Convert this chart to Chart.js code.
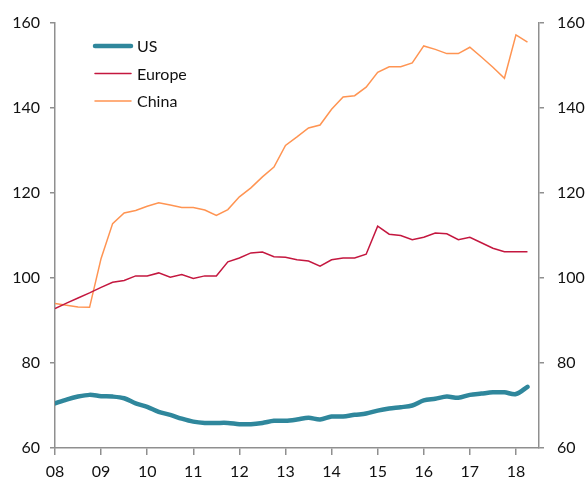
<!DOCTYPE html>
<html>
<head>
<meta charset="utf-8">
<script src="https://cdn.jsdelivr.net/npm/chart.js@4"></script>
<style>
  html, body { margin: 0; padding: 0; background: #fff; }
  #wrap { width: 588px; height: 481px; }
</style>
</head>
<body>
<div id="wrap"><canvas id="chart"></canvas></div>
<script>
// quarterly data, 2008 Q1 .. 2018 Q2
const quarters = [];
for (let y = 2008; y <= 2018; y++) {
  for (let q = 1; q <= 4; q++) {
    if (y === 2018 && q > 2) break;
    quarters.push(y + ' Q' + q);
  }
}
const yearLabels = ['08', '09', '10', '11', '12', '13', '14', '15', '16', '17', '18'];

const us = [70.5, 71.4, 72.1, 72.5, 72.2, 72.1, 71.7, 70.5, 69.7, 68.5,
            67.8, 66.9, 66.2, 65.9, 65.9, 65.9, 65.6, 65.6, 65.9, 66.4,
            66.4, 66.7, 67.1, 66.7, 67.4, 67.4, 67.8, 68.1, 68.8, 69.3,
            69.6, 70.0, 71.2, 71.6, 72.1, 71.8, 72.5, 72.8, 73.1, 73.1,
            72.7, 74.4];
const europe = [92.8, 94.1, 95.3, 96.5, 97.8, 99.0, 99.4, 100.5, 100.5, 101.2,
                100.2, 100.8, 99.9, 100.5, 100.5, 103.8, 104.7, 105.9, 106.1, 105.0,
                104.9, 104.3, 104.0, 102.8, 104.3, 104.7, 104.7, 105.6, 112.2, 110.3,
                110.0, 109.0, 109.6, 110.6, 110.4, 109.0, 109.6, 108.3, 107.0, 106.2,
                106.2, 106.2];
const china = [94.0, 93.6, 93.2, 93.1, 104.6, 112.8, 115.3, 115.9, 116.9, 117.7,
               117.2, 116.6, 116.6, 116.0, 114.7, 116.1, 119.1, 121.2, 123.8, 126.1,
               131.2, 133.2, 135.3, 136.0, 139.7, 142.6, 142.9, 144.9, 148.4, 149.7,
               149.7, 150.6, 154.6, 153.8, 152.8, 152.8, 154.3, 152.0, 149.6, 147.0,
               157.2, 155.5];

const axisColor = '#8f8f8f';
const textColor = '#111111';
const fontFamily = 'Lato, "Open Sans", sans-serif';

function toPoints(values) {
  return values.map((v, i) => ({ x: i, y: v }));
}

// legend drawn inside the plot, top-left
const insideLegend = {
  id: 'insideLegend',
  afterDraw(chart) {
    const ctx = chart.ctx;
    const area = chart.chartArea;
    const x0 = area.left + 40;
    const y0 = area.top + 23;
    ctx.save();
    ctx.font = '16px ' + fontFamily;
    ctx.textBaseline = 'middle';
    chart.data.datasets.forEach((ds, i) => {
      const y = y0 + i * 27.5;
      ctx.strokeStyle = ds.borderColor;
      ctx.lineWidth = ds.borderWidth;
      ctx.lineCap = 'round';
      ctx.beginPath();
      ctx.moveTo(x0, y);
      ctx.lineTo(x0 + 36, y);
      ctx.stroke();
      ctx.fillStyle = textColor;
      ctx.fillText(ds.label, x0 + 42, y + 1);
    });
    ctx.restore();
  }
};

const ctx = document.getElementById('chart');
new Chart(ctx.getContext('2d'), {
  type: 'line',
  data: {
    datasets: [{
      label: 'US',
      data: toPoints(us),
      borderColor: '#2f879c',
      borderWidth: 4.5,
      pointRadius: 0,
      tension: 0.3,
      borderCapStyle: 'round'
    }, {
      label: 'Europe',
      data: toPoints(europe),
      borderColor: '#c4173f',
      borderWidth: 1.5,
      pointRadius: 0,
      tension: 0
    }, {
      label: 'China',
      data: toPoints(china),
      borderColor: '#ff9452',
      borderWidth: 1.5,
      pointRadius: 0,
      tension: 0
    }]
  },
  options: {
    responsive: true,
    maintainAspectRatio: false,
    animation: false,
    layout: {
      padding: { top: 23, left: 0, right: 0, bottom: 0 }
    },
    scales: {
      x: {
        type: 'linear',
        min: 0,
        max: quarters.length,
        afterBuildTicks: scale => {
          scale.ticks = yearLabels.map((_, i) => ({ value: i * 4 }));
        },
        afterFit: scale => { scale.height = 33; },
        border: { color: axisColor, width: 1.5 },
        grid: { drawOnChartArea: false, color: axisColor, lineWidth: 1.5, tickLength: 7 },
        ticks: {
          color: textColor,
          font: { family: fontFamily, size: 16 },
          padding: 7,
          maxRotation: 0,
          autoSkip: false,
          callback: v => yearLabels[v / 4]
        }
      },
      y: {
        position: 'left',
        min: 60,
        max: 160,
        afterFit: scale => { scale.width = 55; },
        border: { color: axisColor, width: 1.5 },
        grid: { drawOnChartArea: false, color: axisColor, lineWidth: 1.5, tickLength: 5 },
        ticks: {
          stepSize: 20,
          color: textColor,
          font: { family: fontFamily, size: 16 },
          padding: 10
        }
      },
      y2: {
        position: 'right',
        min: 60,
        max: 160,
        afterFit: scale => { scale.width = 49; },
        border: { color: axisColor, width: 1.5 },
        grid: { drawOnChartArea: false, color: axisColor, lineWidth: 1.5, tickLength: 5 },
        ticks: {
          stepSize: 20,
          color: textColor,
          font: { family: fontFamily, size: 16 },
          padding: 13
        }
      }
    },
    plugins: {
      legend: { display: false },
      tooltip: { enabled: false }
    }
  },
  plugins: [insideLegend]
});
</script>
</body>
</html>
